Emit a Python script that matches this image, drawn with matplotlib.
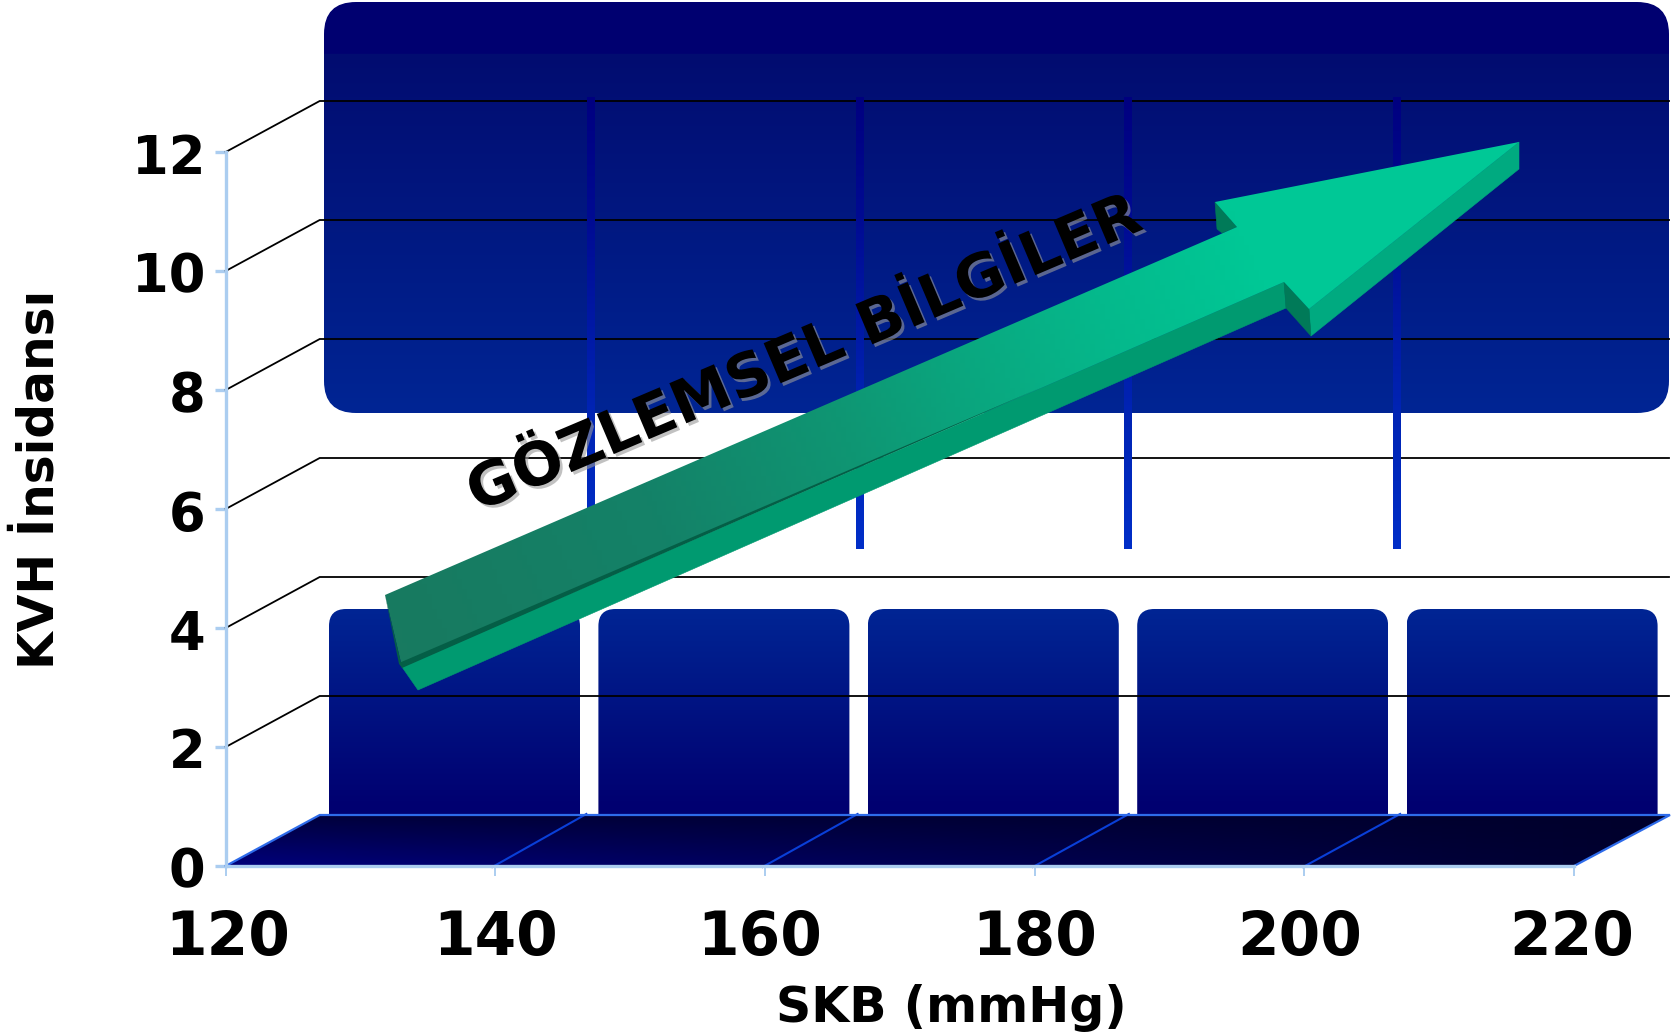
import numpy as np
import matplotlib
matplotlib.use('Agg')
import matplotlib.pyplot as plt
import matplotlib.patheffects as pe
from matplotlib.patches import FancyBboxPatch, Polygon
from matplotlib.path import Path
from matplotlib.transforms import Affine2D, ScaledTranslation

W, H = 1676, 1036

x_ticks = [120, 140, 160, 180, 200, 220]
y_ticks = [0, 2, 4, 6, 8, 10, 12]
x_title = 'SKB (mmHg)'
y_title = 'KVH İnsidansı'
arrow_title = 'GÖZLEMSEL BİLGİLER'

# Axes frame in pixels
AX_L, AX_R, AX_T, AX_B = 225.7, 1574, 152, 866
DEPTH_X, DEPTH_Y = 94, -51
BACK_R = 1669
FLOOR_BACK = AX_B + DEPTH_Y

NAVY = (0, 0, 112)
BLUE = (0, 37, 148)
GRID_LW = 1.3

fig = plt.figure(figsize=(W / 100, H / 100), dpi=100)
ax = fig.add_axes([AX_L / W, 1 - AX_B / H, (AX_R - AX_L) / W, (AX_B - AX_T) / H])
ax.set_xlim(x_ticks[0], x_ticks[-1])
ax.set_ylim(y_ticks[0], y_ticks[-1])
ax.autoscale(False)
ax.patch.set_visible(False)

# Decoration is placed in pixels, origin top left
px = Affine2D().scale(1 / W, -1 / H).translate(0, 1) + fig.transFigure


def tick_x(v):
    return AX_L + (v - x_ticks[0]) / (x_ticks[-1] - x_ticks[0]) * (AX_R - AX_L)


def tick_y(v):
    return AX_B - (v - y_ticks[0]) / (y_ticks[-1] - y_ticks[0]) * (AX_B - AX_T)


def show_rgb(rgb, x0, x1, y0, y1, clip, z):
    im = ax.imshow(np.clip(rgb, 0, 255).astype(np.uint8), extent=(x0, x1, y1, y0), origin='upper',
                   aspect='auto', interpolation='bilinear', transform=px, zorder=z)
    im.set_clip_box(fig.bbox)
    im.set_clip_path(clip, px)
    return im


def vertical(stops, rows, width=2):
    # stops: (position 0..1, rgb)
    pos = [s[0] for s in stops]
    cols = [np.interp(np.linspace(0, 1, rows), pos, [s[1][i] for s in stops]) for i in range(3)]
    return np.repeat(np.stack(cols, axis=-1)[:, None, :], width, axis=1)


def rounded_path(x0, y0, x1, y1, r):
    box = FancyBboxPatch((x0 + r, y0 + r), x1 - x0 - 2 * r, y1 - y0 - 2 * r,
                         boxstyle='round,pad=%g,rounding_size=%g' % (r, r))
    return box.get_path()


# Upper panel, with its darker band along the top
top0, top1, band = 2, 413, 53
rows = top1 - top0
grad = vertical([(0, NAVY), ((band - top0) / rows, NAVY),
                 ((band - top0 + 0.5) / rows, (2, 12, 112)), (1, BLUE)], rows)
show_rgb(grad, 324, BACK_R, top0, top1, rounded_path(324, top0, BACK_R, top1, 32), 1)

# Lower panels, one per x interval
for i in range(len(x_ticks) - 1):
    x0 = 329 + 269.4 * i
    grad = vertical([(0, BLUE), (0.97, NAVY), (1, NAVY)], 205)
    show_rgb(grad, x0, x0 + 251, 609, 814, rounded_path(x0, 609, x0 + 251, 860, 17), 2)

# Grid lines: slanted side wall and back wall
for v in y_ticks[1:]:
    y = tick_y(v)
    ax.plot([AX_L, AX_L + DEPTH_X, BACK_R], [y, y + DEPTH_Y, y + DEPTH_Y], color='black',
            lw=GRID_LW, transform=px, clip_on=False, zorder=3, solid_joinstyle='miter')

# Vertical strips on the back wall
for i in range(len(x_ticks) - 2):
    x0 = 587 + 268.7 * i
    grad = vertical([(0, (0, 0, 128)), (0.25, (0, 10, 145)), (0.7, (0, 36, 180)), (1, (0, 46, 200))], 452)
    show_rgb(grad, x0, x0 + 8, 97, 549, Path([(x0, 97), (x0 + 8, 97), (x0 + 8, 549), (x0, 549), (x0, 97)]), 4)

# Floor
floor = [(AX_L, AX_B), (AX_L + DEPTH_X, FLOOR_BACK), (BACK_R + 1, FLOOR_BACK), (AX_R, AX_B)]
u, t = np.meshgrid(np.linspace(0, 1, 60), np.linspace(0, 1, 20))
blue = (1 - t) * (62 - 18 * u) + t * (122 - 76 * u)
shade = np.dstack([np.zeros_like(blue), np.zeros_like(blue), blue])
show_rgb(shade, AX_L, BACK_R + 1, FLOOR_BACK, AX_B, Path(floor + [floor[0]]), 5)
for i, v in enumerate(x_ticks[1:-1]):
    ax.plot([tick_x(v) - 3 + i * 0.6, tick_x(v) + DEPTH_X - 3 + i * 1.6], [AX_B + 1, FLOOR_BACK - 1],
            color='#0a3fd8', lw=1.5, transform=px, clip_on=False, zorder=5.1)
ax.plot([AX_L, AX_L + DEPTH_X, BACK_R + 1, AX_R], [AX_B, FLOOR_BACK, FLOOR_BACK, AX_B], color='#2e6bea',
        lw=1.6, transform=px, clip_on=False, zorder=5.1, solid_joinstyle='miter')

# Arrow: side faces first, then the gradient top face
faces = [
    ([(402, 667), (418, 690), (1286, 308), (1284, 282)], '#009a70'),
    ([(1309, 309), (1311, 336), (1519, 169), (1519, 142)], '#00aa80'),
    ([(1284, 282), (1286, 308), (1311, 336), (1309, 309)], '#007a58'),
    ([(1215, 202), (1217, 229), (1222, 233), (1237, 227)], '#007a58'),
]
for pts, col in faces:
    ax.add_patch(Polygon(pts, closed=True, fc=col, ec=col, lw=0.4, transform=px, clip_on=False, zorder=6))

top_face = [(385, 595), (1237, 227), (1215, 202), (1519, 142), (1309, 309), (1284, 282), (402, 667)]
gx, gy = np.meshgrid(np.linspace(380, 1525, 230), np.linspace(135, 675, 110))
along = np.clip(((gx - 385) * 0.918 + (gy - 595) * -0.397) / 928, 0, 1)
stops = np.array([0, 0.3, 0.52, 0.83, 1.0])
face_rgb = np.dstack([np.interp(along, stops, c) for c in
                      ([24, 20, 15, 5, 0], [122, 130, 150, 185, 200], [96, 104, 115, 140, 150])])
show_rgb(face_rgb, 380, 1525, 135, 675, Path(top_face + [top_face[0]]), 6.1)
# Dark wedges along the tail end and the lower edge of the shaft
for pts in ([(385, 595), (402, 667), (399, 664)], [(399, 663), (1040, 388), (402, 668)]):
    ax.add_patch(Polygon(pts, closed=True, fc='#045e46', ec='none', transform=px, clip_on=False, zorder=6.2))

ax.text(805, 355, arrow_title, transform=px, rotation=23.0, rotation_mode='anchor', ha='center',
        va='center', fontsize=43, fontweight='bold', color='black', zorder=7,
        path_effects=[pe.withSimplePatchShadow(offset=(2, -2), shadow_rgbFace='#999999', alpha=0.6)])

# Real axes on top
for side in ['top', 'right']:
    ax.spines[side].set_visible(False)
for side in ['left', 'bottom']:
    ax.spines[side].set_color('#abcdf0')
    ax.spines[side].set_zorder(5.5)
ax.spines['left'].set_linewidth(2.4)
ax.spines['bottom'].set_linewidth(2.4)
ax.set_axisbelow(False)
ax.set_xticks(x_ticks)
ax.set_yticks(y_ticks)
ax.tick_params(axis='x', length=7, width=1.4, color='#abcdf0', pad=24, labelsize=43)
ax.tick_params(axis='y', length=8, width=2.4, color='#abcdf0', pad=6.5, labelsize=38)
for lab in ax.get_xticklabels() + ax.get_yticklabels():
    lab.set_fontweight('bold')

# Labels sit a little off their ticks
x_nudge = [2, 0, -5, 0, -5, -2]
for tick, dx in zip(ax.xaxis.get_major_ticks(), x_nudge):
    tick.label1.set_transform(tick.label1.get_transform() + ScaledTranslation(dx / 100, 0, fig.dpi_scale_trans))
for tick in ax.yaxis.get_major_ticks():
    tick.label1.set_transform(tick.label1.get_transform() + ScaledTranslation(0, -1 / 100, fig.dpi_scale_trans))

ax.set_xlabel(x_title, fontsize=35.3, fontweight='bold')
ax.xaxis.set_label_coords(951, 1008, transform=px)
ax.xaxis.label.set_va('center')
ax.set_ylabel(y_title, fontsize=35, fontweight='bold')
ax.yaxis.set_label_coords(40, 479, transform=px)
ax.yaxis.label.set_va('center')

fig.savefig('out.png', dpi=100)
